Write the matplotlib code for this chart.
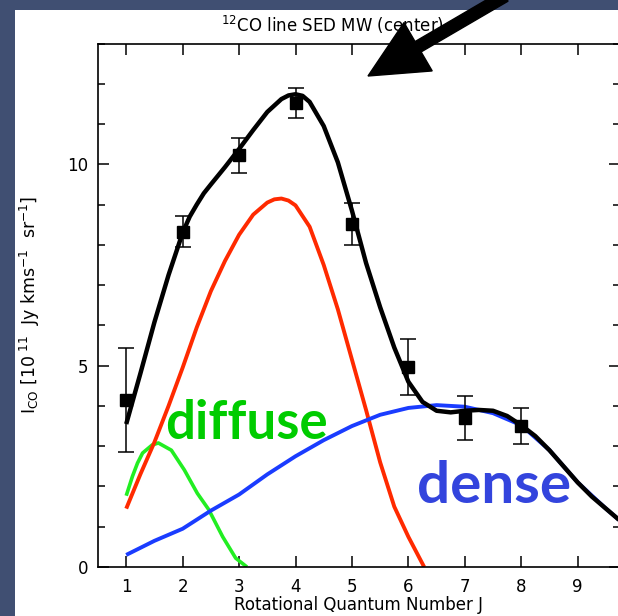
import matplotlib.pyplot as plt
from matplotlib.patches import Rectangle, FancyArrow
from matplotlib.ticker import MultipleLocator

# observed line intensities
J_obs = [1, 2, 3, 4, 5, 6, 7, 8]
I_obs = [4.15, 8.33, 10.22, 11.53, 8.52, 4.97, 3.70, 3.51]
I_err = [1.30, 0.39, 0.43, 0.37, 0.52, 0.70, 0.55, 0.45]

# model components
J_total = [1.0, 1.25, 1.5, 1.75, 2.0, 2.125, 2.25, 2.375, 2.5, 2.75, 3.0, 3.25, 3.5, 3.75,
           3.875, 4.0, 4.125, 4.25, 4.5, 4.75, 5.0, 5.25, 5.5, 5.75, 6.0, 6.25, 6.5, 6.75,
           7.0, 7.25, 7.5, 7.75, 8.0, 8.25, 8.5, 8.75, 9.0, 9.25, 9.5, 9.75]
I_total = [3.55, 4.8, 6.08, 7.25, 8.3, 8.7, 9.0, 9.28, 9.5, 9.93, 10.38, 10.85, 11.3, 11.62,
           11.71, 11.74, 11.7, 11.55, 10.95, 10.05, 8.85, 7.55, 6.45, 5.45, 4.6, 4.1, 3.88, 3.84,
           3.88, 3.9, 3.88, 3.75, 3.52, 3.25, 2.9, 2.5, 2.1, 1.75, 1.45, 1.15]

J_diffuse = [1.0, 1.11, 1.2, 1.29, 1.46, 1.57, 1.8, 2.03, 2.26, 2.46, 2.71, 2.94, 3.14]
I_diffuse = [1.77, 2.25, 2.58, 2.83, 3.03, 3.08, 2.9, 2.41, 1.83, 1.43, 0.75, 0.22, 0.0]

J_warm = [1.0, 1.25, 1.5, 1.75, 2.0, 2.25, 2.5, 2.75, 3.0, 3.25, 3.5, 3.625, 3.75, 3.875,
          4.0, 4.25, 4.5, 4.75, 5.0, 5.25, 5.5, 5.75, 6.0, 6.28]
I_warm = [1.45, 2.3, 3.1, 4.0, 4.95, 5.95, 6.85, 7.6, 8.25, 8.75, 9.05, 9.13, 9.15, 9.1,
          8.98, 8.45, 7.5, 6.4, 5.15, 3.9, 2.6, 1.5, 0.75, 0.0]

J_dense = [1.0, 1.5, 2.0, 2.5, 3.0, 3.5, 4.0, 4.5, 5.0, 5.5, 6.0, 6.5, 7.0, 7.5,
           8.0, 8.5, 9.0, 9.5, 9.75]
I_dense = [0.30, 0.65, 0.95, 1.4, 1.8, 2.3, 2.75, 3.15, 3.5, 3.78, 3.95, 4.02, 3.98, 3.82,
           3.52, 2.9, 2.1, 1.45, 1.15]

W, H = 618, 616
fig = plt.figure(figsize=(W / 100, H / 100), dpi=100, facecolor='#404f72')
# white page behind the plot
fig.add_artist(Rectangle((15 / W, 0), 1, (H - 10) / H, transform=fig.transFigure,
                         facecolor='white', edgecolor='none', zorder=-5))

ax = fig.add_axes([98 / W, (H - 567) / H, (620 - 98) / W, (567 - 43.5) / H])

ax.plot(J_diffuse, I_diffuse, color='#22ee22', lw=2.6, solid_capstyle='butt')
ax.plot(J_warm, I_warm, color='#ff2a00', lw=2.8, solid_capstyle='butt')
ax.plot(J_dense, I_dense, color='#1a3cff', lw=2.8, solid_capstyle='butt')
ax.plot(J_total, I_total, color='black', lw=3.2, solid_capstyle='butt')
ax.errorbar(J_obs, I_obs, yerr=I_err, fmt='s', color='black', ms=8, capsize=6,
            elinewidth=1.1, capthick=1.1, zorder=5)

ax.text(1.69, 3.17, 'diffuse', color='#00cc00', fontsize=38, fontweight='bold',
        family='Lato', ha='left', va='baseline')
ax.text(6.15, 1.6, 'dense', color='#3344dd', fontsize=42, fontweight='bold',
        family='Lato', ha='left', va='baseline')

ax.set_xlim(0.5, 9.75)
ax.set_ylim(0, 13)
ax.set_xticks(range(1, 10))
ax.yaxis.set_major_locator(MultipleLocator(5))
ax.yaxis.set_minor_locator(MultipleLocator(1))
ax.tick_params(which='both', direction='in', top=True, right=True, width=1.1,
               labelsize=12)
ax.tick_params(which='major', length=8)
ax.tick_params(which='minor', length=5)
ax.tick_params(axis='x', pad=8)
ax.tick_params(axis='y', pad=7)
for s in ax.spines.values():
    s.set_linewidth(1.2)

ax.set_xlabel('Rotational Quantum Number J', fontsize=12, labelpad=0)
ax.set_ylabel(r'I$_{\rm CO}$ [10$^{\ 11}$  Jy kms$^{-1}$  sr$^{-1}$]', fontsize=12.5,
              labelpad=18)
fig.text(333 / W, (H - 25) / H, r'$^{12}$CO line SED MW (center)', fontsize=12,
         ha='center', va='center')

# the big pointer arrow over the title
fig.add_artist(FancyArrow(505, H + 4, -137, -80, width=12, head_width=56, head_length=58,
                          length_includes_head=True, color='black', transform=None,
                          zorder=10))

fig.savefig('out.png', dpi=100, facecolor=fig.get_facecolor())
